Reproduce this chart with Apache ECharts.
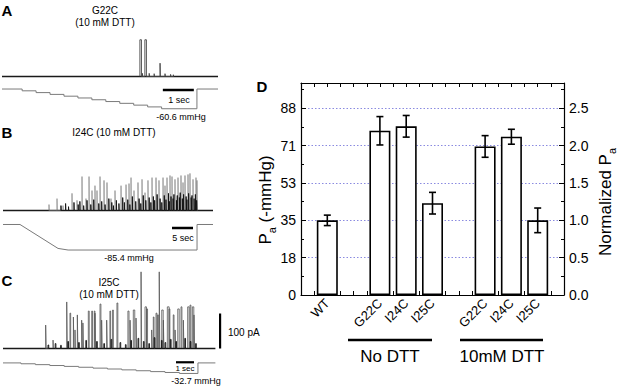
<!DOCTYPE html>
<html><head><meta charset="utf-8">
<script src="https://cdn.jsdelivr.net/npm/echarts@6/dist/echarts.min.js"></script>
<style>html,body{margin:0;padding:0;background:#fff}#c{width:617px;height:389px}</style>
</head><body><div id="c"></div>
<script>
// ================= DATA =================
// Panel D (bar chart)
const dCategories = ['WT', 'G22C', 'I24C', 'I25C', 'G22C', 'I24C', 'I25C'];
const dPositions = [1, 3, 4, 5, 7, 8, 9];
const dValues = [1.00, 2.20, 2.26, 1.23, 1.99, 2.12, 1.00];   // normalized Pa
const dErrors = [0.07, 0.19, 0.145, 0.145, 0.145, 0.10, 0.165];
const dLeftTicks = ['0', '18', '35', '53', '71', '88'];       // -mmHg
const dRightTicks = ['0.0', '0.5', '1.0', '1.5', '2.0', '2.5'];
const dGroups = ['No DTT', '10mM DTT'];

// Panel A: G22C (10 mM DTT) — spikes [time s, current pA, duration s]
const aSpikes = [[4.45, 105, 0.05], [4.53, 9, 0.01], [4.61, 105, 0.05], [4.75, 9, 0.01], [4.91, 8, 0.01],
  [5.10, 38, 0.01], [5.26, 8, 0.01], [5.44, 6, 0.01], [5.53, 5, 0.01]];
const aPressure = [[0, 0], [0.65, -5.5], [1.1, -11], [1.55, -16.5], [2.0, -22], [2.45, -27.5], [2.9, -33],
  [3.35, -38.5], [3.8, -44], [4.25, -49.5], [4.7, -55], [5.15, -60.6], [6.29, -60.6], [6.29, 0], [6.97, 0]];
const aTimeBar = [[5.19, -3], [6.19, -3]];

// Panel B: I24C (10 mM DTT)
const bSpikes = [[10.95, 17], [12.86, 34], [14.29, 14], [16.43, 49], [17.62, 29], [18.81, 97], [19.76, 34],
  [20.48, 97], [21.19, 57], [21.90, 71], [22.38, 57], [23.10, 97], [24.05, 86], [24.76, 80], [25.71, 34],
  [26.67, 57], [28.10, 71], [29.29, 74], [30.0, 77], [30.48, 94], [31.19, 57], [32.14, 80], [33.10, 89],
  [33.81, 51], [34.52, 86], [35.48, 94], [36.43, 94], [37.14, 86], [38.10, 94], [38.57, 71], [39.05, 94],
  [39.76, 100], [40.24, 97], [40.95, 89], [41.67, 94], [42.38, 100], [42.86, 80], [43.33, 100], [44.05, 103],
  [44.52, 106], [45.24, 89], [45.95, 94], [46.19, 86]];
const bSmall = [[13.8, 14], [14.9, 20], [15.6, 11], [16.9, 23], [17.9, 17], [18.3, 26], [19.2, 14], [20.0, 29],
  [20.9, 17], [21.6, 31], [22.8, 20], [23.5, 26], [24.3, 17], [25.2, 34], [25.9, 23], [26.3, 14], [27.0, 29],
  [27.6, 20], [28.5, 37], [28.9, 23], [29.7, 31], [30.2, 17], [30.8, 40], [31.6, 26], [32.4, 34], [32.8, 20],
  [33.4, 43], [34.0, 29], [34.8, 37], [35.2, 23], [35.8, 40], [36.1, 29], [36.7, 46], [37.4, 34], [37.8, 23],
  [38.4, 43], [38.8, 31], [39.4, 49], [39.6, 26], [40.0, 40], [40.5, 34], [40.7, 46], [41.3, 29], [41.5, 43],
  [42.0, 37], [42.2, 51], [42.7, 34], [43.0, 46], [43.6, 40], [43.8, 31], [44.2, 49], [44.8, 37], [45.0, 43],
  [45.5, 34], [45.8, 46], [46.1, 29]];
const bPressure = [[0, 0], [4.05, 0], [13.1, -80], [15.5, -85.4], [46.2, -85.4], [46.2, 0], [50, 0]];
const bTimeBar = [[40.24, -11.7], [45.24, -11.7]];

// Panel C: I25C (10 mM DTT)
const cSpikes = [[2.37, 67, 0.03], [2.78, 24, 0.02], [3.54, 133, 0.03], [3.72, 101, 0.04], [3.91, 90, 0.03],
  [4.0, 53, 0.02], [4.13, 96, 0.03], [4.37, 81, 0.03], [4.44, 73, 0.03], [4.74, 107, 0.05], [4.93, 107, 0.04],
  [5.07, 107, 0.04], [5.11, 101, 0.03], [5.39, 127, 0.05], [5.48, 81, 0.03], [5.76, 81, 0.03], [5.94, 107, 0.04],
  [6.09, 110, 0.04], [6.33, 130, 0.05], [6.94, 107, 0.06], [7.06, 81, 0.03], [7.24, 110, 0.08], [7.39, 87, 0.03],
  [7.67, 219, 0.03], [7.89, 119, 0.08], [7.98, 113, 0.05], [8.26, 53, 0.03], [8.35, 90, 0.04], [8.5, 101, 0.05],
  [8.59, 96, 0.04], [8.68, 219, 0.03], [8.82, 110, 0.08], [8.91, 81, 0.03], [9.13, 119, 0.1], [9.22, 113, 0.05],
  [9.46, 96, 0.04], [9.56, 53, 0.03], [9.71, 113, 0.08], [9.89, 119, 0.05], [10.02, 81, 0.03], [10.26, 119, 0.08],
  [10.39, 124, 0.05], [10.52, 119, 0.08], [10.61, 96, 0.03]];
const cSmall = [[2.5, 10], [2.9, 14], [3.2, 9], [3.6, 20], [4.2, 17], [4.6, 23], [5.2, 20], [5.6, 14], [6.0, 26],
  [6.5, 17], [6.8, 11], [7.1, 23], [7.5, 29], [7.8, 20], [8.1, 14], [8.4, 31], [8.8, 23], [9.0, 17], [9.3, 26],
  [9.6, 20], [10.1, 29], [10.4, 20], [10.7, 14]];
const cPressure = [[0, 0], [1.0, -2.7], [1.8, -5.4], [2.6, -8.1], [3.4, -10.8], [4.2, -13.5], [5.0, -16.2],
  [5.8, -18.9], [6.6, -21.6], [7.4, -24.3], [8.2, -27.0], [9.0, -29.7], [9.8, -32.7], [10.83, -32.7],
  [10.83, 0], [11.8, 0]];
const cTimeBar = [[9.61, 2], [10.61, 2]];
const cCurrentBar = [[12.06, 0], [12.06, 100]];

// ================= CHART =================
const FONT = '"Liberation Sans", Arial, Helvetica, sans-serif';
const chart = echarts.init(document.getElementById('c'), null, { renderer: 'svg' });
const grids = [], xAxes = [], yAxes = [], series = [];

function addGrid(left, top, width, height, xmin, xmax, ymin, ymax) {
  const gi = grids.length;
  grids.push({ left, top, width, height, containLabel: false, outerBoundsMode: 'none' });
  xAxes.push({ type: 'value', gridIndex: gi, min: xmin, max: xmax, show: false });
  yAxes.push({ type: 'value', gridIndex: gi, min: ymin, max: ymax, show: false });
  return gi;
}
function spikeLine(spikes, defDur) {
  const pts = [];
  spikes.slice().sort((a, b) => a[0] - b[0]).forEach(s => {
    const d = s.length > 2 ? s[2] : defDur;
    pts.push([s[0], 0], [s[0], s[1]], [s[0] + d, s[1]], [s[0] + d, 0]);
  });
  return pts;
}
function line(gi, data, color, width, extra) {
  series.push(Object.assign({
    type: 'line', xAxisIndex: gi, yAxisIndex: gi, data, symbol: 'none', showSymbol: false,
    lineStyle: { color, width }, silent: true, animation: false, clip: false, z: 3
  }, extra || {}));
}
const TRACE = '#1a1a1a', PRESS = '#7a7a7a';

// Panel A
const gAc = addGrid(2, 36.25, 216, 45.5, 0, 6.97, -15, 115);
const gAp = addGrid(2, 87.4, 216, 24.4, 0, 6.97, -70, 5);
line(gAc, [[0, 0], [6.97, 0]], TRACE, 1.4);
line(gAc, spikeLine(aSpikes, 0.02), '#444', 0.9);
line(gAp, aPressure, PRESS, 1, { step: 'end' });
line(gAp, aTimeBar, '#000', 2.5);

// Panel B
const gBc = addGrid(3, 170.25, 210, 45.5, 0, 50, -15, 115);
const gBp = addGrid(3, 223, 210, 29.9, 0, 50, -95, 5);
line(gBc, [[0, 0], [50, 0]], TRACE, 1.6);
line(gBc, spikeLine(bSpikes, 0.06), '#777', 0.6);
line(gBc, spikeLine(bSmall, 0.06), '#111', 0.9);
line(gBp, bPressure, PRESS, 1);
line(gBp, bTimeBar, '#000', 2.5);

// Panel C
const gCc = addGrid(3, 268, 225, 85.75, 0, 12.5, -15, 230);
const gCp = addGrid(3, 361.3, 225, 14.5, 0, 12.5, -40, 5);
line(gCc, [[0, 0], [11.8, 0]], TRACE, 1.5);
line(gCc, spikeLine(cSpikes, 0.04), '#555', 0.8);
line(gCc, spikeLine(cSmall, 0.04), '#111', 0.9);
line(gCc, cCurrentBar, '#000', 2.2);
line(gCp, cPressure, PRESS, 1, { step: 'end' });
line(gCp, cTimeBar, '#000', 2.2);

// Panel D
const gD = grids.length;
grids.push({ left: 301, top: 83, width: 263, height: 212, containLabel: false, outerBoundsMode: 'none' });
const LEFT_UNIT = 35.3;   // mmHg per normalized unit
const RIGHT_MAX = 2.84;
const axisLineStyle = { color: '#000', width: 1.2 };
const xD = xAxes.length;
xAxes.push({
  type: 'value', gridIndex: gD, min: 0, max: 10, interval: 0.5, position: 'bottom',
  axisLine: { show: true, onZero: false, lineStyle: axisLineStyle },
  axisTick: { show: true, inside: true, length: 4, lineStyle: { color: '#000', width: 1 } },
  splitLine: { show: false },
  axisLabel: {
    show: true, rotate: 45, margin: 6, color: '#000', fontFamily: FONT, fontSize: 13,
    formatter: v => { const i = dPositions.indexOf(Math.round(v * 100) / 100); return i >= 0 ? dCategories[i] : ''; }
  }
});
xAxes.push({
  type: 'value', gridIndex: gD, min: 0, max: 10, interval: 0.5, position: 'top',
  axisLine: { show: true, onZero: false, lineStyle: axisLineStyle },
  axisTick: { show: true, inside: true, length: 4, lineStyle: { color: '#000', width: 1 } },
  splitLine: { show: false }, axisLabel: { show: false }
});
const yDL = yAxes.length;
yAxes.push({
  type: 'value', gridIndex: gD, position: 'left', min: 0, max: RIGHT_MAX * LEFT_UNIT, interval: LEFT_UNIT / 2,
  axisLine: { show: true, onZero: false, lineStyle: axisLineStyle },
  axisTick: { show: true, inside: true, length: 5, lineStyle: { color: '#000', width: 1 } },
  minorTick: { show: true, splitNumber: 2, length: 3, lineStyle: { color: '#000', width: 1 } },
  splitLine: { show: false },
  axisLabel: {
    show: true, margin: 5, color: '#000', fontFamily: FONT, fontSize: 14, showMaxLabel: false,
    formatter: v => { const k = Math.round(v / (LEFT_UNIT / 2)); return Math.abs(v - k * LEFT_UNIT / 2) < 1e-3 && k < dLeftTicks.length ? dLeftTicks[k] : ''; }
  }
});
const yDR = yAxes.length;
yAxes.push({
  type: 'value', gridIndex: gD, position: 'right', min: 0, max: RIGHT_MAX, interval: 0.5,
  axisLine: { show: true, onZero: false, lineStyle: axisLineStyle },
  axisTick: { show: true, inside: true, length: 5, lineStyle: { color: '#000', width: 1 } },
  minorTick: { show: true, splitNumber: 2, length: 3, lineStyle: { color: '#000', width: 1 } },
  splitLine: { show: true, lineStyle: { color: '#8a8ae0', width: 1, type: [1.5, 2] } },
  axisLabel: {
    show: true, margin: 5, color: '#000', fontFamily: FONT, fontSize: 14, showMaxLabel: false,
    formatter: v => { const k = Math.round(v / 0.5); return Math.abs(v - k * 0.5) < 1e-6 && k < dRightTicks.length ? dRightTicks[k] : ''; }
  }
});
series.push({
  type: 'bar', xAxisIndex: xD, yAxisIndex: yDR, barWidth: 21, z: 4,
  data: dPositions.map((p, i) => [p, dValues[i]]),
  itemStyle: { color: '#fff', borderColor: '#000', borderWidth: 1.6 },
  silent: true, animation: false
});
series.push({
  type: 'custom', xAxisIndex: xD, yAxisIndex: yDR, z: 6, silent: true, animation: false,
  data: dPositions.map((p, i) => [p, dValues[i] - dErrors[i], dValues[i] + dErrors[i]]),
  encode: { x: 0, y: [1, 2] },
  renderItem: (params, api) => {
    const x = api.value(0);
    const lo = api.coord([x, api.value(1)]);
    const hi = api.coord([x, api.value(2)]);
    const cw = 3.5;
    const st = { stroke: '#000', lineWidth: 1.6 };
    return {
      type: 'group', children: [
        { type: 'line', shape: { x1: lo[0], y1: lo[1], x2: hi[0], y2: hi[1] }, style: st },
        { type: 'line', shape: { x1: lo[0] - cw, y1: lo[1], x2: lo[0] + cw, y2: lo[1] }, style: st },
        { type: 'line', shape: { x1: hi[0] - cw, y1: hi[1], x2: hi[0] + cw, y2: hi[1] }, style: st }
      ]
    };
  }
});

// ----- texts / decorations -----
function txt(x, y, text, size, opts) {
  opts = opts || {};
  return {
    type: 'text', x, y, rotation: opts.rotation || 0, z: 10, silent: true,
    style: Object.assign({
      text, fill: '#000', font: (opts.bold ? 'bold ' : '') + size + 'px ' + FONT,
      fontSize: size, fontFamily: FONT, fontWeight: opts.bold ? 'bold' : 'normal',
      textAlign: opts.align || 'center', textVerticalAlign: 'middle',
      align: opts.align || 'center', verticalAlign: 'middle'
    }, opts.style || {})
  };
}
const sub = {
  m: { fontSize: 17, fontFamily: FONT, lineHeight: 24, color: '#000' },
  s: { fontSize: 11, fontFamily: FONT, lineHeight: 11, verticalAlign: 'bottom', color: '#000' }
};
const graphic = [
  txt(7, 10, 'A', 15, { bold: true }),
  txt(105, 10, 'G22C', 10), txt(105, 22, '(10 mM DTT)', 10),
  txt(179, 100, '1 sec', 9), txt(181, 117, '-60.6 mmHg', 9),
  txt(7, 132, 'B', 15, { bold: true }),
  txt(114, 132, 'I24C (10 mM DTT)', 10),
  txt(183, 238, '5 sec', 9), txt(129, 258, '-85.4 mmHg', 9),
  txt(7, 280, 'C', 15, { bold: true }),
  txt(109, 282, 'I25C', 10), txt(109, 294, '(10 mM DTT)', 10),
  txt(228, 332, '100 pA', 10, { align: 'left' }),
  txt(185, 368, '1 sec', 8), txt(196, 381, '-32.7 mmHg', 9),
  txt(262, 86, 'D', 15, { bold: true }),
  {
    type: 'text', x: 265, y: 200, rotation: Math.PI / 2, z: 10, silent: true,
    style: { text: '{m|P}{s|a}{m| (-mmHg)}', rich: sub, align: 'center', verticalAlign: 'middle', textAlign: 'center', textVerticalAlign: 'middle' }
  },
  {
    type: 'text', x: 605, y: 202, rotation: Math.PI / 2, z: 10, silent: true,
    style: { text: '{m|Normalized P}{s|a}', rich: sub, align: 'center', verticalAlign: 'middle', textAlign: 'center', textVerticalAlign: 'middle' }
  },
  { type: 'line', shape: { x1: 348, y1: 340, x2: 432, y2: 340 }, style: { stroke: '#000', lineWidth: 2.5 }, z: 10 },
  { type: 'line', shape: { x1: 460, y1: 340, x2: 543, y2: 340 }, style: { stroke: '#000', lineWidth: 2.5 }, z: 10 },
  txt(390, 356, dGroups[0], 17), txt(502, 356, dGroups[1], 17)
];

chart.setOption({
  animation: false,
  backgroundColor: '#fff',
  grid: grids, xAxis: xAxes, yAxis: yAxes, series, graphic
});
</script></body></html>
